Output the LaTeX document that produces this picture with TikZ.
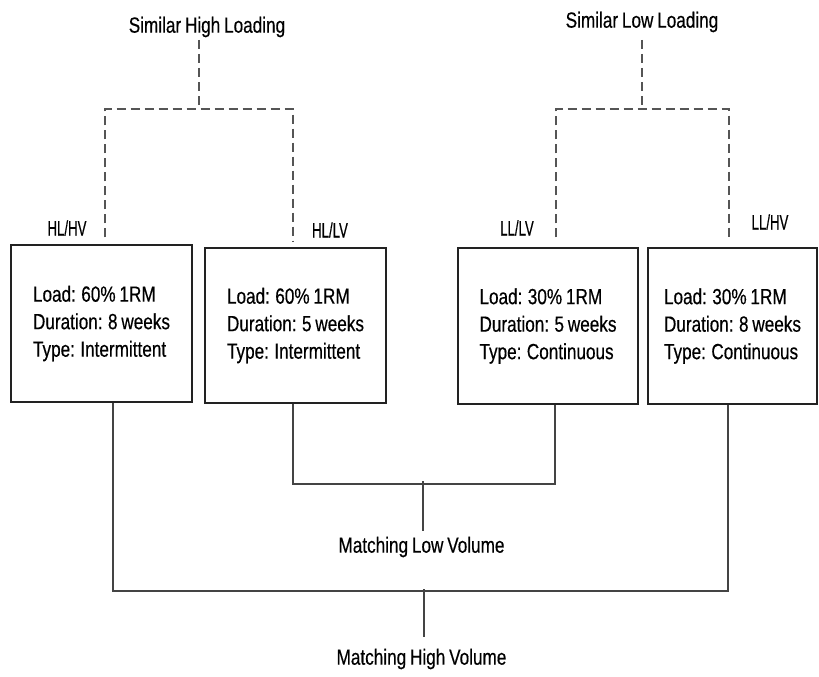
\documentclass[tikz,border=0pt]{standalone}
\usepackage{fontspec}
\setmainfont{Liberation Sans}
\newfontfamily\narrowfont[FakeStretch=0.78,WordSpace=0.8,FakeBold=0.4]{Liberation Sans}
\newfontfamily\tagfont[FakeStretch=0.63,FakeBold=0.4]{Liberation Sans}
\definecolor{boxline}{HTML}{222222}
\definecolor{linkline}{HTML}{444444}
\definecolor{dashline}{HTML}{555555}
\begin{document}
\begin{tikzpicture}[x=1pt,y=-1pt,
  groupbox/.style={draw=boxline,line width=1.2pt,inner sep=0pt,
    align=left,font=\narrowfont\fontsize{22}{27.5}\selectfont},
  caption/.style={inner sep=0pt,font=\narrowfont\fontsize{22}{24}\selectfont},
  tag/.style={inner sep=0pt,font=\tagfont\fontsize{21}{22}\selectfont},
  dashlink/.style={draw=dashline,line width=1.2pt,dash pattern=on 9pt off 5pt},
  link/.style={draw=linkline,line width=1.2pt}]
\useasboundingbox (0,0) rectangle (819,677);

% the four training groups
\node[groupbox,minimum width=181pt,minimum height=157pt] (b1) at (101.5,323.5)
  {Load: 60\% 1RM\\Duration: 8 weeks\\Type: Intermittent};
\node[groupbox,minimum width=181pt,minimum height=155pt] (b2) at (295.5,325.5)
  {Load: 60\% 1RM\\Duration: 5 weeks\\Type: Intermittent};
\node[groupbox,minimum width=180pt,minimum height=156pt] (b3) at (548,326)
  {Load: 30\% 1RM\\Duration: 5 weeks\\Type: Continuous};
\node[groupbox,minimum width=169pt,minimum height=156pt] (b4) at (732.5,326)
  {Load: 30\% 1RM\\Duration: 8 weeks\\Type: Continuous};

% group tags
\node[tag] (t1) at (67,228) {HL/HV};
\node[tag] (t2) at (330,230) {HL/LV};
\node[tag] (t3) at (517,228) {LL/LV};
\node[tag] (t4) at (770,222) {LL/HV};

% comparison captions
\node[caption] (shl) at (207,27) {Similar High Loading};
\node[caption] (sll) at (642,22) {Similar Low Loading};
\node[caption] (mlv) at (421.5,547) {Matching Low Volume};
\node[caption] (mhv) at (421.5,659) {Matching High Volume};

% junction points
\coordinate (shlTop) at (199,40);
\coordinate (shlBar) at (199,109);
\coordinate (sllTop) at (642,40);
\coordinate (sllBar) at (642,109);
\coordinate (mlvBar) at (423,484);
\coordinate (mlvEnd) at (423,531);
\coordinate (mhvBar) at (424,591);
\coordinate (mhvEnd) at (424,637);

% similar loading brackets (dashed)
\draw[dashlink] (shlTop) -- (shlBar);
\draw[dashlink] ([shift={(3.5pt,7pt)}]b1.north) |- (shlBar) -| ([shift={(-2.5pt,5pt)}]b2.north);
\draw[dashlink] (sllTop) -- (sllBar);
\draw[dashlink] ([shift={(8pt,10pt)}]b3.north) |- (sllBar) -| ([shift={(-3.5pt,10pt)}]b4.north);

% matching volume brackets (solid)
\draw[link] ([xshift=-2.5pt]b2.south) |- (mlvBar) -| ([xshift=7pt]b3.south);
\draw[link] ([yshift=3pt]mlvBar) -- (mlvEnd);
\draw[link] ([xshift=11.5pt]b1.south) |- (mhvBar) -| ([xshift=-4.5pt]b4.south);
\draw[link] ([yshift=2pt]mhvBar) -- (mhvEnd);
\end{tikzpicture}
\end{document}
